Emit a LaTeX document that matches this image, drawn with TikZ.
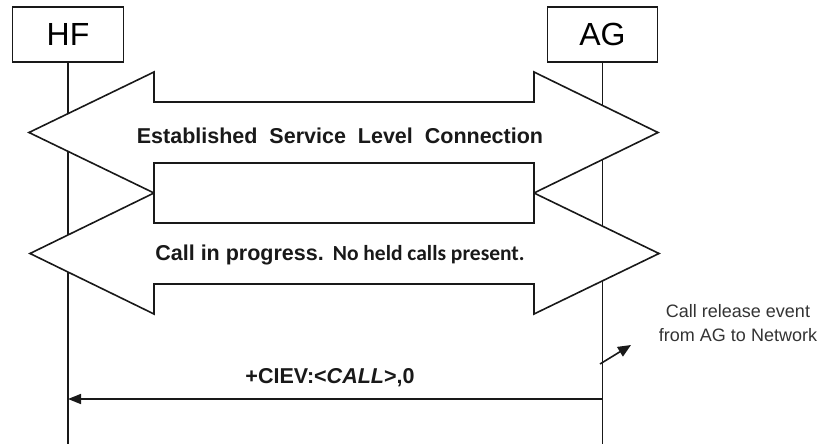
\documentclass[tikz,border=0pt]{standalone}
\usepackage{fontspec}
\setmainfont{Liberation Sans}
\newfontfamily\calib{Carlito}
\usetikzlibrary{arrows.meta}
\begin{document}
\begin{tikzpicture}[x=1pt,y=-1pt,
  ln/.style={line width=1.6pt, draw=black!90},
  entity/.style={ln, rectangle, minimum width=111pt, minimum height=55pt, inner sep=0pt, font=\fontsize{32}{38}\selectfont},
  band/.style={ln, fill=white, line join=miter},
  bandtxt/.style={anchor=base, inner sep=0pt, text=black!90, font=\bfseries\fontsize{21.5}{26}\selectfont},
  msg/.style={ln, -{Triangle[length=13pt,width=10pt]}},
  note/.style={anchor=base, inner sep=0pt, text=black!80, font=\fontsize{18}{22}\selectfont},
]
\useasboundingbox (0,0) rectangle (824,444);
\node[entity] (hf) at (68,34.5) {HF};
\node[entity, minimum width=110pt] (ag) at (602.5,34.5) {AG};
\coordinate (hfend) at (68,444);
\coordinate (agend) at (602.5,444);
\draw[ln] (hf.south) -- (hfend);
\draw[ln] (ag.south) -- (agend);
% double arrows
\draw[band] (29,132.5) -- (154,72) -- (154,102) -- (534,102) -- (534,72) -- (658,132.5) -- (534,193) -- (534,163) -- (154,163) -- (154,193) -- cycle;
\draw[band] (30,253.5) -- (154,193) -- (154,223) -- (534,223) -- (534,193) -- (659,253.5) -- (534,314) -- (534,284) -- (154,284) -- (154,314) -- cycle;
\node[bandtxt] (slc) at (340,143) {Established\ \ Service\ \ Level\ \ Connection};
\node[bandtxt] (cip) at (340,260.5) {Call in progress.\hspace{9pt}{\calib No held calls present.}};
% message
\coordinate (m1) at (602.5,399);
\coordinate (m2) at (68,399);
\draw[msg] (m1) -- (m2);
\node[bandtxt] (ciev) at (330,383) {+CIEV:<\textit{CALL}>,0};
% release event
\coordinate (r1) at (600,364);
\coordinate (r2) at (631,345);
\draw[ln, -{Triangle[length=13pt,width=11pt]}] (r1) -- (r2);
\node[note] (rel1) at (738,317) {Call release event};
\node[note] (rel2) at (738,341) {from AG to Network};
\end{tikzpicture}
\end{document}
